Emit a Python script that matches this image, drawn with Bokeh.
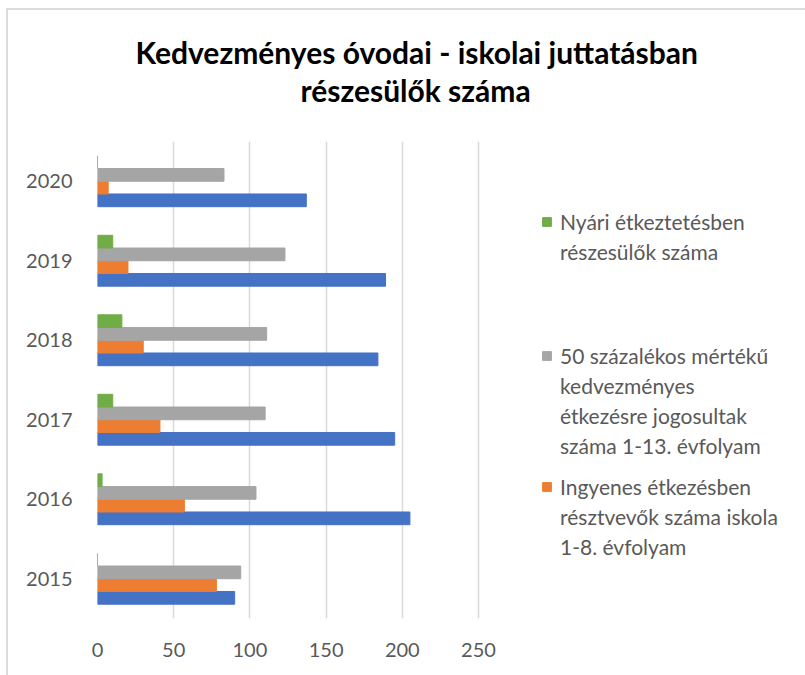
from bokeh.plotting import figure
from bokeh.models import (FactorRange, Range1d, Legend, LegendItem, Label, FixedTicker)
from bokeh.layouts import column
from bokeh.transform import dodge
from bokeh.embed import file_html
from bokeh.resources import INLINE

# ---- data ----
years = ["2015", "2016", "2017", "2018", "2019", "2020"]
kek_sorozat = [90, 205, 195, 184, 189, 137]          # blue series (legend entry not visible)
ingyenes_etkezes = [78, 57, 41, 30, 20, 7]            # orange
kedvezmenyes_50 = [94, 104, 110, 111, 123, 83]        # gray
nyari_etkeztetes = [0, 3, 10, 16, 10, 0]              # green
x_ticks = [0, 50, 100, 150, 200, 250]

title_lines = ["Kedvezményes óvodai - iskolai juttatásban", "részesülők száma"]
label_nyari = ["Nyári étkeztetésben", "részesülők száma"]
label_50 = ["50 százalékos mértékű", "kedvezményes", "étkezésre jogosultak",
            "száma 1-13. évfolyam"]
label_ingyenes = ["Ingyenes étkezésben", "résztvevők száma iskola", "1-8. évfolyam"]

FONT = "Lato"
TXT = "#595959"
W, HT = 805, 675
TOP = 141              # height of the title strip = top of the plot area
FL, AXR, FB = 97, 478, 618   # plot-area left, x position of last tick, plot-area bottom

# ---- title strip (its frame is aligned with the chart's frame: FL..W) ----
t = figure(width=W, height=TOP, x_range=Range1d(FL, W), y_range=Range1d(TOP, 0),
           x_axis_location=None, y_axis_location=None, title_location=None,
           output_backend="svg", toolbar_location=None, min_border=0)
t.outline_line_color = None
t.xgrid.grid_line_color = None
t.ygrid.grid_line_color = None
t.background_fill_alpha = 0
t.border_fill_alpha = 0
title_pos = [(135, 51), (300, 89)]   # left edge and vertical middle of each title line
for txt, (tx, ty) in zip(title_lines, title_pos):
    t.add_layout(Label(x=tx, y=ty, text=txt, text_font=FONT, text_font_style="bold",
                       text_font_size="30px", text_color="black", text_align="left",
                       text_baseline="middle"))

# ---- main chart ----
x_end = x_ticks[-1] * (W - FL) / (AXR - FL)
p = figure(width=W, height=HT - TOP, y_range=FactorRange(*years), x_range=Range1d(0, x_end),
           output_backend="svg", toolbar_location=None,
           min_border_left=FL, min_border_right=0, min_border_top=0,
           min_border_bottom=HT - FB)
p.outline_line_color = None
p.background_fill_alpha = 0
p.border_fill_alpha = 0

data = dict(year=years, blue=kek_sorozat, orange=ingyenes_etkezes,
            gray=kedvezmenyes_50, green=nyari_etkeztetes)
H = 0.16
r_blue = p.hbar(y=dodge("year", -0.24, range=p.y_range), right="blue", left=0, height=H,
                source=data, color="#4472C4")
r_orange = p.hbar(y=dodge("year", -0.08, range=p.y_range), right="orange", left=0, height=H,
                  source=data, color="#ED7D31")
r_gray = p.hbar(y=dodge("year", 0.08, range=p.y_range), right="gray", left=0, height=H,
                source=data, color="#A5A5A5")
r_green = p.hbar(y=dodge("year", 0.24, range=p.y_range), right="green", left=0, height=H,
                 source=data, color="#70AD47")
# invisible renderer used for continuation lines of the legend labels
r_blank = p.hbar(y=[], right=[], left=0, height=H, fill_alpha=0, line_alpha=0)

p.xaxis.ticker = FixedTicker(ticks=x_ticks)
p.xgrid.ticker = FixedTicker(ticks=x_ticks)
p.xgrid.grid_line_color = "#d9d9d9"
p.xgrid.grid_line_width = 1.5
p.ygrid.grid_line_color = None

for ax in (p.xaxis[0], p.yaxis[0]):
    ax.axis_line_color = None
    ax.major_tick_line_color = None
    ax.minor_tick_line_color = None
    ax.major_label_text_color = TXT
    ax.major_label_text_font = FONT
    ax.major_label_text_font_size = "20px"
p.xaxis.major_label_standoff = 18
p.yaxis.major_label_standoff = 19

LINE = 30


def legend_block(lines, renderer, top):
    items = [LegendItem(label=lines[0], renderers=[renderer])]
    items += [LegendItem(label=s, renderers=[r_blank]) for s in lines[1:]]
    bottom = top + LINE * len(lines)
    return Legend(items=items, location=(541 - FL, FB - bottom), orientation="vertical",
                  label_text_font=FONT, label_text_font_size="21px", label_text_color=TXT,
                  label_height=LINE, glyph_width=11, glyph_height=11,
                  label_standoff=8, spacing=0, padding=0, margin=0,
                  border_line_color=None, background_fill_alpha=0)


p.add_layout(legend_block(label_nyari, r_green, 206), "center")
p.add_layout(legend_block(label_50, r_gray, 340), "center")
p.add_layout(legend_block(label_ingyenes, r_orange, 471), "center")

page = column(t, p, spacing=0,
              styles={"background-color": "white",
                      "box-shadow": "inset 6px 8px 0 0 white, inset 8px 10px 0 0 #dcdcdc"})

open("out.html", "w").write(file_html(page, INLINE))
